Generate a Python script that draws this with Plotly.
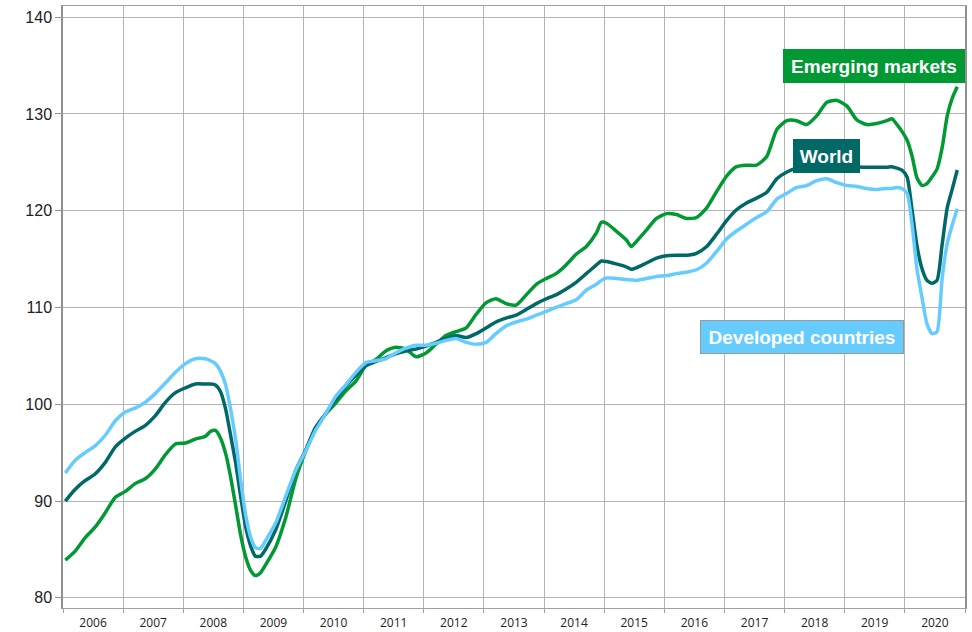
import plotly.graph_objects as go

# Month labels (data points placed mid-month)
dates = [
    "2006-01", "2006-03", "2006-05", "2006-07", "2006-09", "2006-11",
    "2007-01", "2007-03", "2007-05", "2007-07", "2007-09", "2007-11",
    "2008-01", "2008-03", "2008-05", "2008-06", "2008-07", "2008-08",
    "2008-09", "2008-10", "2008-11", "2008-12",
    "2009-01", "2009-02", "2009-03", "2009-04", "2009-05", "2009-07",
    "2009-09", "2009-11",
    "2010-01", "2010-03", "2010-05", "2010-07", "2010-09", "2010-11",
    "2011-01", "2011-03", "2011-05", "2011-07", "2011-09", "2011-11",
    "2012-01", "2012-03", "2012-05", "2012-07", "2012-09", "2012-11",
    "2013-01", "2013-03", "2013-05", "2013-07", "2013-09", "2013-11",
    "2014-01", "2014-03", "2014-05", "2014-07", "2014-09", "2014-11", "2014-12",
    "2015-01", "2015-03", "2015-05", "2015-06", "2015-07", "2015-09", "2015-11",
    "2016-01", "2016-03", "2016-05", "2016-07", "2016-09", "2016-11",
    "2017-01", "2017-03", "2017-05", "2017-07", "2017-09", "2017-11",
    "2018-01", "2018-03", "2018-05", "2018-07", "2018-09", "2018-11",
    "2019-01", "2019-03", "2019-05", "2019-07", "2019-09", "2019-10",
    "2019-11", "2019-12",
    "2020-01", "2020-02", "2020-03", "2020-04", "2020-05", "2020-06",
    "2020-07", "2020-08", "2020-09", "2020-10", "2020-11",
]

emerging = [
    83.9, 84.8, 86.2, 87.3, 88.8, 90.4,
    91.0, 91.8, 92.3, 93.3, 94.8, 95.9,
    96.0, 96.4, 96.7, 97.2, 97.3, 96.5,
    94.9, 92.5, 89.5, 86.5,
    84.2, 82.8, 82.3, 82.6, 83.4, 85.2,
    88.3, 92.3,
    95.2, 97.5, 99.0, 100.1, 101.4, 102.4,
    104.0, 104.6, 105.5, 105.9, 105.7, 104.9,
    105.3, 106.2, 107.1, 107.5, 107.9, 109.3,
    110.5, 110.9, 110.4, 110.25, 111.3, 112.4,
    113.0, 113.5, 114.4, 115.5, 116.3, 117.7, 118.8,
    118.7, 117.9, 117.0, 116.3, 116.8, 118.0, 119.2,
    119.7, 119.6, 119.2, 119.3, 120.3, 122.0,
    123.6, 124.55, 124.7, 124.7, 125.6, 128.4,
    129.3, 129.3, 128.9, 129.8, 131.2, 131.4,
    130.8, 129.4, 128.9, 129.0, 129.3, 129.5,
    128.9, 128.2,
    127.3, 125.6, 123.4, 122.6, 122.8, 123.5,
    124.3, 126.5, 129.8, 131.6, 132.8,
]

world = [
    90.0, 91.2, 92.1, 92.8, 94.0, 95.6,
    96.5, 97.2, 97.8, 98.8, 100.2, 101.2,
    101.7, 102.1, 102.1, 102.1, 102.0, 101.3,
    99.5, 96.8, 93.9, 90.5,
    87.3, 85.3, 84.3, 84.3, 85.0, 87.0,
    90.0, 93.2,
    95.3, 97.6, 99.0, 100.5, 101.9, 103.0,
    104.0, 104.4, 104.8, 105.2, 105.5, 105.7,
    106.0, 106.4, 106.8, 107.1, 106.9, 107.3,
    107.9, 108.5, 108.9, 109.2, 109.8, 110.4,
    110.9, 111.3, 111.9, 112.6, 113.5, 114.4, 114.8,
    114.75, 114.5, 114.2, 113.95, 114.1, 114.6, 115.1,
    115.35, 115.4, 115.4, 115.6, 116.3, 117.6,
    119.0, 120.1, 120.8, 121.3, 121.9, 123.3,
    124.0, 124.4, 124.6, 124.8, 125.0, 124.9,
    124.7, 124.55, 124.5, 124.5, 124.5, 124.55,
    124.4, 124.2,
    123.5, 120.0, 116.4, 114.0, 112.8, 112.5,
    112.8, 116.5, 120.3, 122.2, 124.2,
]

developed = [
    92.9, 94.2, 95.0, 95.7, 96.8, 98.3,
    99.2, 99.6, 100.2, 101.1, 102.2, 103.3,
    104.2, 104.7, 104.7, 104.5, 104.2, 103.4,
    102.0, 99.5, 96.3, 92.2,
    88.5, 86.2, 85.2, 85.1, 85.9, 87.7,
    90.5, 93.2,
    95.2, 97.3, 99.0, 100.8, 102.0, 103.3,
    104.3, 104.5, 104.7, 105.3, 105.8, 106.1,
    106.1, 106.3, 106.6, 106.8, 106.4, 106.2,
    106.4, 107.3, 108.1, 108.5, 108.8, 109.2,
    109.6, 110.0, 110.4, 110.8, 111.8, 112.4, 112.8,
    113.05, 113.0, 112.9, 112.85, 112.8, 113.0, 113.2,
    113.3, 113.5, 113.65, 113.9, 114.6, 115.8,
    117.1, 117.9, 118.6, 119.3, 119.9, 121.2,
    121.8, 122.4, 122.6, 123.1, 123.3, 122.9,
    122.6, 122.5, 122.3, 122.2, 122.3, 122.3,
    122.4, 122.3,
    121.8, 118.5, 114.0, 111.0, 108.3, 107.3,
    107.5, 113.0, 116.6, 118.5, 120.2,
]

series_names = ["Emerging markets", "World", "Developed countries"]
series_colors = ["#009933", "#006966", "#66CCFF"]

assert len(dates) == len(emerging) == len(world) == len(developed)
xdates = [d + "-15" for d in dates]

fig = go.Figure()
for name, vals, col in zip(series_names, [emerging, world, developed], series_colors):
    fig.add_trace(go.Scatter(
        x=xdates, y=vals, name=name, mode="lines",
        line=dict(color=col, width=3.5, shape="spline", smoothing=0.6),
        hoverinfo="skip",
    ))

label_specs = [
    # name, bg, border, paper x, paper y, width
    ("Emerging markets", "#009933", "#009933", 0.899, 0.901, 172),
    ("World", "#006966", "#006966", 0.8465, 0.7507, 57),
    ("Developed countries", "#66CCFF", "#999999", 0.819, 0.4499, 194),
]
for text, bg, bc, px, py, w in label_specs:
    fig.add_annotation(
        x=px, y=py, xref="paper", yref="paper", text="<b>%s</b>" % text,
        showarrow=False, xanchor="center", yanchor="middle",
        font=dict(family="Liberation Sans, Arial, sans-serif", size=19, color="white"),
        bgcolor=bg, bordercolor=bc, borderwidth=1, borderpad=4,
        width=w, height=24,
    )

fig.update_layout(
    width=972, height=632,
    margin=dict(l=63, r=7, t=6, b=24, autoexpand=False),
    paper_bgcolor="white", plot_bgcolor="white",
    showlegend=False,
)
fig.update_xaxes(
    type="date", range=["2006-01-01", "2021-01-01"],
    tick0="2006-01-01", dtick="M12", tickformat="%Y",
    ticklabelmode="period", automargin=False,
    showgrid=True, gridcolor="#b4b4b4", gridwidth=1,
    showline=True, linecolor="#a0a0a0", linewidth=1, mirror=True,
    ticks="outside", ticklen=4, tickcolor="#a0a0a0",
    tickfont=dict(family="Open Sans, sans-serif", size=12, color="#222222"),
    zeroline=False,
)
fig.update_yaxes(
    range=[78.95, 141.15], tick0=80, dtick=10, automargin=False,
    showgrid=True, gridcolor="#b4b4b4", gridwidth=1,
    showline=True, linecolor="#909090", linewidth=1.5, mirror=True,
    ticks="outside", ticklen=6, tickcolor="#909090",
    tickfont=dict(family="Liberation Sans, Arial, sans-serif", size=16, color="#222222"),
    zeroline=False,
)

fig.write_html(
    "out.html",
    config={"displayModeBar": False},
    post_script="document.body.style.margin='0';document.body.style.padding='0';"
                "document.body.style.overflow='hidden';",
)
